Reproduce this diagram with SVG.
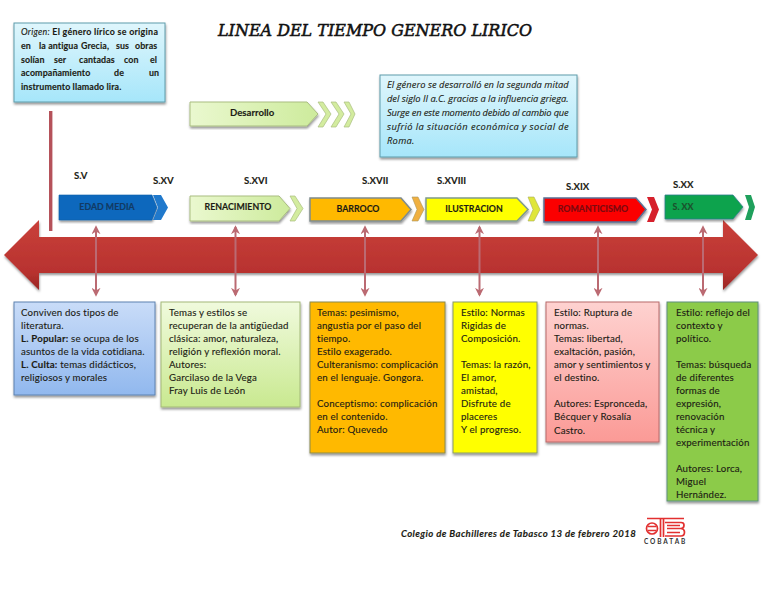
<svg xmlns="http://www.w3.org/2000/svg" width="768" height="594" viewBox="0 0 768 594">
<style>
text{font-family:"Lato","Liberation Sans",sans-serif;font-size:9.7px;letter-spacing:.18px;fill:#1c1c14;stroke:#1c1c14;stroke-width:.12px}
.b{font-weight:700}
.o{font-size:8.9px;letter-spacing:.1px;font-weight:700}
.it{font-style:italic;font-size:9.3px;letter-spacing:.3px;font-family:"Open Sans","Liberation Sans",sans-serif}
.lab{font-weight:700;font-size:9.6px;letter-spacing:0}
.cap{font-weight:700;font-size:8.8px;letter-spacing:0;text-anchor:middle}
.title{font-family:"DejaVu Serif",serif;font-style:italic;font-size:17.500px;letter-spacing:0;fill:#111;stroke:#111;stroke-width:.55px}
.box{filter:url(#sh)}
.sky{fill:url(#gSky);stroke:#5f9cab;stroke-width:1}
.conn{stroke:#bb6a72;stroke-width:2;fill:none;marker-start:url(#dh);marker-end:url(#dh)}
</style>
<defs>
<filter id="sh" x="-10%" y="-10%" width="120%" height="125%"><feDropShadow dx="0.5" dy="2" stdDeviation="1.2" flood-color="#000" flood-opacity=".4"/></filter>
<linearGradient id="gSky" x1="0" y1="0" x2="0" y2="1"><stop offset="0" stop-color="#dff6fc"/><stop offset="1" stop-color="#a6e6fa"/></linearGradient>
<linearGradient id="gLime" x1="0" y1="0" x2="1" y2="0"><stop offset="0" stop-color="#eaf8cf"/><stop offset="1" stop-color="#cdeb9c"/></linearGradient>
<linearGradient id="gLimeV" x1="0" y1="0" x2="0" y2="1"><stop offset="0" stop-color="#f0fadd"/><stop offset="1" stop-color="#c9e990"/></linearGradient>
<linearGradient id="gBlue" x1="0" y1="0" x2="0" y2="1"><stop offset="0" stop-color="#c9dcf8"/><stop offset="1" stop-color="#91b8ee"/></linearGradient>
<linearGradient id="gPink" x1="0" y1="0" x2="0" y2="1"><stop offset="0" stop-color="#fed2d0"/><stop offset="1" stop-color="#fb9a96"/></linearGradient>
<linearGradient id="gRed" x1="0" y1="0" x2="0" y2="1"><stop offset="0" stop-color="#c9403a"/><stop offset=".75" stop-color="#b8322f"/><stop offset="1" stop-color="#982624"/></linearGradient>
<marker id="dh" viewBox="0 0 10 10" refX="8" refY="5" markerWidth="9" markerHeight="9" markerUnits="userSpaceOnUse" orient="auto-start-reverse"><path d="M0 0L10 5L0 10L3 5Z" fill="#bb6a72"/></marker>
</defs>
<rect width="768" height="594" fill="#fff"/>

<text class="title" x="218" y="36" textLength="314" lengthAdjust="spacingAndGlyphs">LINEA DEL TIEMPO GENERO LIRICO</text>

<g id="origen">
<rect class="box sky" x="14" y="23" width="151" height="79"/>
<text class="o" x="21" y="35" textLength="137"><tspan font-style="italic" font-weight="400">Origen:</tspan> El género lírico se origina</text>
<text class="o" y="49"><tspan x="21">en</tspan> <tspan x="39">la antigua</tspan> <tspan x="81">Grecia,</tspan> <tspan x="116">sus</tspan> <tspan x="135">obras</tspan></text>
<text class="o" y="63"><tspan x="21">solían</tspan> <tspan x="54">ser</tspan> <tspan x="79">cantadas</tspan> <tspan x="124">con</tspan> <tspan x="150">el</tspan></text>
<text class="o" x="21" y="76">acompañamiento</text>
<text class="o" x="114" y="76">de</text>
<text class="o" x="149" y="76">un</text>
<text class="o" x="21" y="90">instrumento llamado lira.</text>
</g>

<g id="desarrollo">
<path class="box" d="M190 102H307L318 114L307 126H190Z" fill="url(#gLime)" stroke="#a9bd80"/>
<path d="M318 102H323L331 114L323 127H318L326 114Z M331 102H336L344 114L336 127H331L339 114Z M344 102H349L355 114L349 127H344L351 114Z" fill="#d3ec9f" stroke="#a9bd80" stroke-width=".7"/>
<text class="lab" x="230" y="116">Desarrollo</text>
</g>

<g id="desc">
<rect class="box sky" x="380" y="75" width="197" height="82"/>
<text class="it" x="387" y="88" textLength="182">El género se desarrolló en la segunda mitad</text>
<text class="it" x="387" y="102" textLength="182">del siglo II a.C. gracias a la influencia griega.</text>
<text class="it" x="387" y="116" textLength="182">Surge en este momento debido al cambio que</text>
<text class="it" x="387" y="130" textLength="182">sufrió la situación económica y social de</text>
<text class="it" x="387" y="144">Roma.</text>
</g>

<g id="vertical"><rect x="49" y="111" width="3.4" height="120" fill="#b5525a"/></g>

<g id="timeline">
<path class="box" d="M4 255L39 220V237H723V220L758 255L723 290V273H39V290Z" fill="url(#gRed)"/>
</g>

<g id="connectors">
<line class="conn" x1="96" y1="227" x2="96" y2="295"/>
<line class="conn" x1="235.500" y1="227" x2="235.500" y2="295"/>
<line class="conn" x1="365" y1="227" x2="365" y2="295"/>
<line class="conn" x1="479.500" y1="227" x2="479.500" y2="295"/>
<line class="conn" x1="598" y1="227" x2="598" y2="295"/>
<line class="conn" x1="703" y1="227" x2="703" y2="295"/>
</g>

<g id="sv"><text class="lab" x="74" y="179">S.V</text></g>
<g id="sxv"><text class="lab" x="153" y="184">S.XV</text></g>
<g id="sxvi"><text class="lab" x="244" y="184">S.XVI</text></g>
<g id="sxvii"><text class="lab" x="362" y="184">S.XVII</text></g>
<g id="sxviii"><text class="lab" x="437" y="184">S.XVIII</text></g>
<g id="sxix"><text class="lab" x="566" y="190">S.XIX</text></g>
<g id="sxx"><text class="lab" x="673" y="188">S.XX</text></g>

<g id="edad">
<path class="box" d="M59 195H152L157 207.500L152 220H59Z" fill="#0a68bd" stroke="#0a5ea8" stroke-width=".6"/>
<path d="M153 195H161L168 207.500L161 220H153L158 207.500Z" fill="#2079cc"/>
<text class="cap" x="107" y="210" style="fill:#123a63;stroke:#123a63">EDAD MEDIA</text>
</g>
<g id="renacimiento">
<path class="box" d="M190 196H279L290 208.500L279 221H190Z" fill="url(#gLime)" stroke="#a9bd80"/>
<path d="M290 196H295L303 208.500L295 221H290L297 208.500Z" fill="#d3ec9f" stroke="#a9bd80" stroke-width=".7"/>
<text class="cap" x="238" y="210">RENACIMIENTO</text>
</g>
<g id="barroco">
<path class="box" d="M310 198H401L411 209.500L401 221H310Z" fill="#ffb900" stroke="#7f8a8c" stroke-width="1.500"/>
<path d="M412 197H418L424 209.500L418 221H412L417 209.500Z" fill="#f0b040" stroke="#a9965a" stroke-width=".6"/>
<text class="cap" x="358" y="212">BARROCO</text>
</g>
<g id="ilustracion">
<path class="box" d="M426 198H517L528 209.500L517 221H426Z" fill="#ffff00" stroke="#7f9a8c" stroke-width="1.500"/>
<path d="M528 197H534L540 209.500L534 221H528L533 209.500Z" fill="#dfe63a" stroke="#a9ad5a" stroke-width=".6"/>
<text class="cap" x="474" y="212">ILUSTRACION</text>
</g>
<g id="romanticismo">
<path class="box" d="M544 198H636L646 209.500L636 222H544Z" fill="#fb0000" stroke="#5a6f94" stroke-width="1.500"/>
<path d="M647 197H654L659 209.500L654 222H647L652 209.500Z" fill="#d6202c"/>
<text class="cap" x="593" y="212" style="fill:#7a0a10;stroke:#7a0a10">ROMANTICISMO</text>
</g>
<g id="xx">
<path class="box" d="M665 195H733L743 207L733 219H665Z" fill="#0ba34e" stroke="#2f7f8a" stroke-width=".8"/>
<path d="M745 195H751L755 207L751 220H745L749 207Z" fill="#1fa05c"/>
<text class="cap" x="683" y="210" style="fill:#1c4f2c;stroke:#1c4f2c">S. XX</text>
</g>

<g id="c1">
<rect class="box" x="14" y="302" width="141" height="93" fill="url(#gBlue)" stroke="#5d82b0"/>
<text x="21" y="316">Conviven dos tipos de</text>
<text x="21" y="329">literatura.</text>
<text x="21" y="342"><tspan class="b">L. Popular:</tspan> se ocupa de los</text>
<text x="21" y="355">asuntos de la vida cotidiana.</text>
<text x="21" y="368"><tspan class="b">L. Culta:</tspan> temas didácticos,</text>
<text x="21" y="381">religiosos y morales</text>
</g>
<g id="c2">
<rect class="box" x="161" y="302" width="139" height="105" fill="url(#gLimeV)" stroke="#a3b878"/>
<text x="169" y="316">Temas y estilos se</text>
<text x="169" y="329">recuperan de la antigüedad</text>
<text x="169" y="342">clásica: amor, naturaleza,</text>
<text x="169" y="355">religión y reflexión moral.</text>
<text x="169" y="368">Autores:</text>
<text x="169" y="381">Garcilaso de la Vega</text>
<text x="169" y="394">Fray Luis de León</text>
</g>
<g id="c3">
<rect class="box" x="310" y="302" width="135" height="151" fill="#ffb900" stroke="#8a8a50"/>
<text x="317" y="316">Temas: pesimismo,</text>
<text x="317" y="329">angustia por el paso del</text>
<text x="317" y="342">tiempo.</text>
<text x="317" y="355">Estilo exagerado.</text>
<text x="317" y="368">Culteranismo: complicación</text>
<text x="317" y="381">en el lenguaje. Gongora.</text>
<text x="317" y="407">Conceptismo: complicación</text>
<text x="317" y="420">en el contenido.</text>
<text x="317" y="433">Autor: Quevedo</text>
</g>
<g id="c4">
<rect class="box" x="453" y="302" width="84" height="151" fill="#ffff00" stroke="#8a9a6a"/>
<text x="461" y="316">Estilo: Normas</text>
<text x="461" y="329">Rigidas de</text>
<text x="461" y="342">Composición.</text>
<text x="461" y="368">Temas: la razón,</text>
<text x="461" y="381">El amor,</text>
<text x="461" y="394">amistad,</text>
<text x="461" y="407">Disfrute de</text>
<text x="461" y="420">placeres</text>
<text x="461" y="433">Y el progreso.</text>
</g>
<g id="c5">
<rect class="box" x="546" y="302" width="113" height="140" fill="url(#gPink)" stroke="#b86a6a"/>
<text x="554" y="316">Estilo: Ruptura de</text>
<text x="554" y="329">normas.</text>
<text x="554" y="342">Temas: libertad,</text>
<text x="554" y="355">exaltación, pasión,</text>
<text x="554" y="368">amor y sentimientos y</text>
<text x="554" y="381">el destino.</text>
<text x="554" y="407">Autores: Espronceda,</text>
<text x="554" y="420">Bécquer y Rosalía</text>
<text x="554" y="434">Castro.</text>
</g>
<g id="c6">
<rect class="box" x="667" y="302" width="91" height="199" fill="#8ccb4a" stroke="#5d8f7a"/>
<text x="676" y="316">Estilo: reflejo del</text>
<text x="676" y="329">contexto y</text>
<text x="676" y="342">político.</text>
<text x="676" y="368">Temas: búsqueda</text>
<text x="676" y="381">de diferentes</text>
<text x="676" y="394">formas de</text>
<text x="676" y="407">expresión,</text>
<text x="676" y="420">renovación</text>
<text x="676" y="433">técnica y</text>
<text x="676" y="446">experimentación</text>
<text x="676" y="472">Autores: Lorca,</text>
<text x="676" y="485">Miguel</text>
<text x="676" y="498">Hernández.</text>
</g>

<g id="footer">
<text class="b" x="401" y="537" style="font-style:italic;font-size:9.6px" textLength="235">Colegio de Bachilleres de Tabasco 13 de febrero 2018</text>
<g fill="none" stroke="#e23030" stroke-width="1.700">
<circle cx="652" cy="528.500" r="5.500"/>
<path d="M648 526.500H656M648 530.500H656"/>
<path d="M647 518.500H684"/>
<path d="M660.500 518V537M663.500 518V537"/>
<path d="M665 522.500H681Q684 522.500 684 525Q684 528.500 681 528.500H667M681 528.500Q684.500 529 684.500 532Q684.500 536 681 536H665"/>
<path d="M667 525.500H680M667 532.500H680"/>
</g>
<text x="644" y="544" style="font-size:6.500px;letter-spacing:1.900px;font-weight:700;fill:#333;stroke:none">COBATAB</text>
</g>
</svg>
